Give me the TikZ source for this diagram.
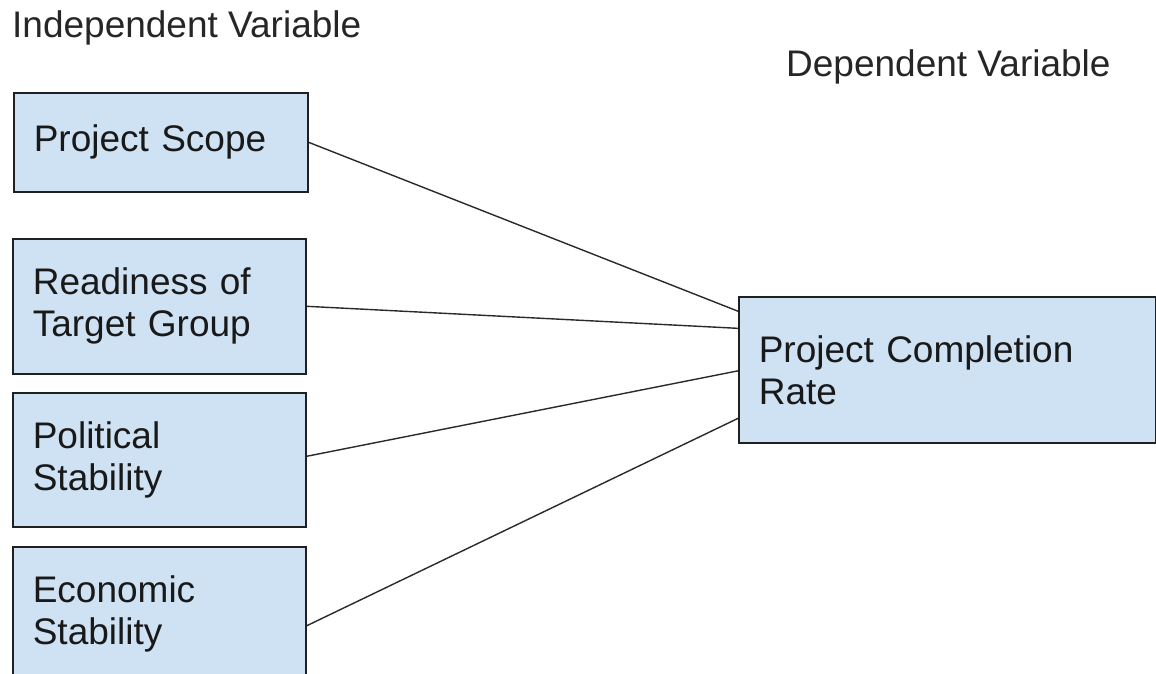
\documentclass[tikz,border=0pt]{standalone}
\usepackage{fontspec}
\setmainfont{Liberation Sans}
\usetikzlibrary{calc}
\definecolor{boxfill}{HTML}{CFE2F3}
\definecolor{boxline}{HTML}{202020}
\definecolor{linkcol}{HTML}{2A2A2A}
\begin{document}
\begin{tikzpicture}[x=1pt,y=-1pt,
  varbox/.style={rectangle, draw=boxline, fill=boxfill, line width=1.6pt,
    anchor=north west, inner xsep=20pt, inner ysep=0pt, align=left,
    text=black!90, font=\fontsize{37}{42}\selectfont},
  heading/.style={anchor=base west, inner sep=0pt, text=black!85,
    font=\fontsize{37}{42}\selectfont},
  link/.style={draw=linkcol, line width=1.4pt}
]
\clip (0,0) rectangle (1156,673);
\fill[white] (0,0) rectangle (1156,673);

% column headings
\node[heading] (indep) at (12,37) {Independent Variable};
\node[heading] (dep) at (786,76) {Dependent Variable};

% independent variables
\node[varbox, text width=254pt, minimum height=99pt] (scope) at (13,92) {Project Scope};
\node[varbox, text width=253pt, minimum height=135pt] (ready) at (12,238) {Readiness of\\Target Group};
\node[varbox, text width=253pt, minimum height=134pt] (polit) at (12,392) {Political\\Stability};
\node[varbox, text width=253pt, minimum height=134pt] (econ) at (12,546) {Economic\\Stability};

% dependent variable
\node[varbox, text width=377pt, minimum height=146pt] (rate) at (738,296) {Project Completion\\Rate};

% connectors into the dependent variable
\draw[link] (scope.east) -- ($(rate.north west)!0.103!(rate.south west)$);
\draw[link] (ready.east) -- ($(rate.north west)!0.219!(rate.south west)$);
\draw[link] ([yshift=3.5pt]polit.east) -- ($(rate.north west)!0.507!(rate.south west)$);
\draw[link] ([yshift=-12pt]econ.east) -- ($(rate.north west)!0.829!(rate.south west)$);
\end{tikzpicture}
\end{document}
